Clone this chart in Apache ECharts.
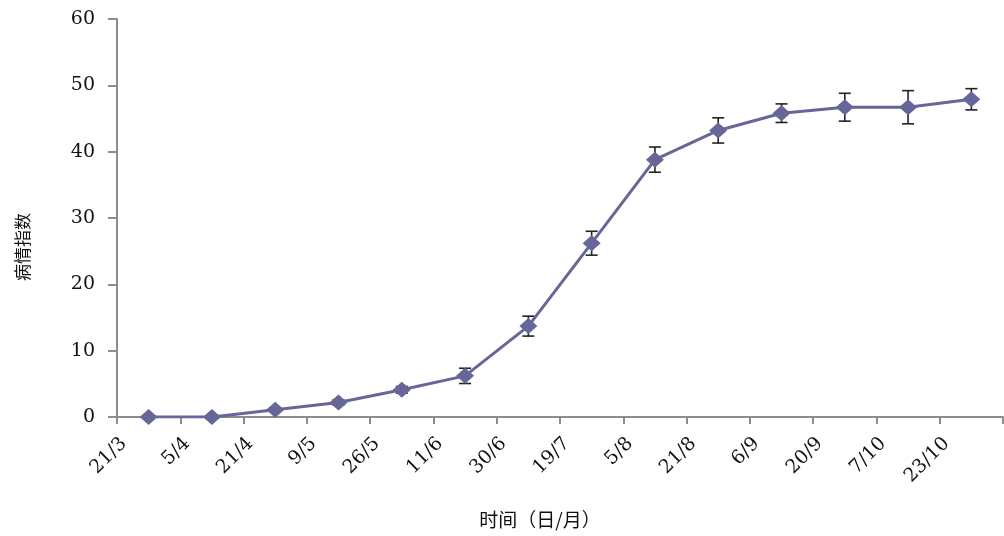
<!DOCTYPE html>
<html>
<head>
<meta charset="utf-8">
<script src="https://cdn.jsdelivr.net/npm/echarts@6/dist/echarts.min.js"></script>
<style>
  html, body { margin: 0; padding: 0; background: #fff; }
  #chart { width: 1004px; height: 536px; }
</style>
</head>
<body>
<div id="chart"></div>
<script>
// Sampling dates (day/month)
const dates = ['21/3', '5/4', '21/4', '9/5', '26/5', '11/6', '30/6', '19/7', '5/8', '21/8', '6/9', '20/9', '7/10', '23/10'];
// Mean disease index at each date
const diseaseIndex = [0, 0, 1.1, 2.2, 4.1, 6.2, 13.7, 26.2, 38.8, 43.2, 45.8, 46.7, 46.7, 47.9];
// Error (±) for each mean
const errors = [0, 0, 0.3, 0.4, 0.5, 1.15, 1.5, 1.8, 1.9, 1.9, 1.4, 2.1, 2.5, 1.6];
// Y axis range
const yMin = 0, yMax = 60, yStep = 10;

const serif = 'DejaVu Serif';
const cjk = 'Noto Sans CJK SC';
const lineColor = '#666699';
const axisGray = '#8c8c8c';

const errorData = dates.map((d, i) => [i, diseaseIndex[i] - errors[i], diseaseIndex[i] + errors[i]]);

const chart = echarts.init(document.getElementById('chart'), null, { renderer: 'canvas' });
chart.setOption({
  animation: false,
  backgroundColor: '#ffffff',
  grid: { left: 117, right: 1, top: 19, bottom: 119, containLabel: false, outerBoundsMode: 'none' },
  xAxis: [
    {
      // data axis: one band per sampling date
      type: 'category',
      data: dates,
      boundaryGap: true,
      position: 'bottom',
      show: false
    },
    {
      // labelled axis: date labels sit on the band boundaries
      type: 'category',
      data: dates.concat(['']),
      boundaryGap: false,
      position: 'bottom',
      axisLine: { show: true, lineStyle: { color: axisGray, width: 2 } },
      axisTick: { show: true, length: 7, interval: 0, lineStyle: { color: axisGray, width: 2 } },
      axisLabel: {
        interval: 0,
        rotate: 45,
        align: 'right',
        verticalAlign: 'top',
        margin: 17,
        fontFamily: serif,
        fontSize: 19,
        color: '#111'
      },
      splitLine: { show: false },
      name: '时间（日/月）',
      nameLocation: 'middle',
      nameGap: 93,
      nameTextStyle: { fontFamily: cjk, fontSize: 19, color: '#111', padding: [0, 40, 0, 0] }
    }
  ],
  yAxis: {
    type: 'value',
    min: yMin,
    max: yMax,
    interval: yStep,
    axisLine: { show: true, lineStyle: { color: axisGray, width: 2 } },
    axisTick: { show: true, inside: false, length: 9, lineStyle: { color: axisGray, width: 2 } },
    axisLabel: { margin: 22, fontFamily: serif, fontSize: 19, color: '#111' },
    splitLine: { show: false },
    name: '病情指数',
    nameLocation: 'middle',
    nameRotate: 90,
    nameGap: 86,
    nameTextStyle: { fontFamily: cjk, fontSize: 17, color: '#111', padding: [0, 58, 0, 0] }
  },
  series: [
    {
      type: 'custom',
      name: 'error',
      xAxisIndex: 0,
      z: 1,
      data: errorData,
      renderItem: function (params, api) {
        const x = api.value(0);
        const lo = api.coord([x, api.value(1)]);
        const hi = api.coord([x, api.value(2)]);
        const cap = 6;
        const style = { stroke: '#222', lineWidth: 1.6, fill: null };
        return {
          type: 'group',
          children: [
            { type: 'line', shape: { x1: lo[0], y1: lo[1], x2: hi[0], y2: hi[1] }, style: style },
            { type: 'line', shape: { x1: hi[0] - cap, y1: hi[1], x2: hi[0] + cap, y2: hi[1] }, style: style },
            { type: 'line', shape: { x1: lo[0] - cap, y1: lo[1], x2: lo[0] + cap, y2: lo[1] }, style: style }
          ]
        };
      }
    },
    {
      type: 'line',
      name: '病情指数',
      xAxisIndex: 0,
      z: 3,
      data: diseaseIndex,
      symbol: 'diamond',
      symbolSize: [18, 16],
      showAllSymbol: true,
      lineStyle: { color: lineColor, width: 3 },
      itemStyle: { color: lineColor },
      emphasis: { disabled: true }
    }
  ]
});
</script>
</body>
</html>
